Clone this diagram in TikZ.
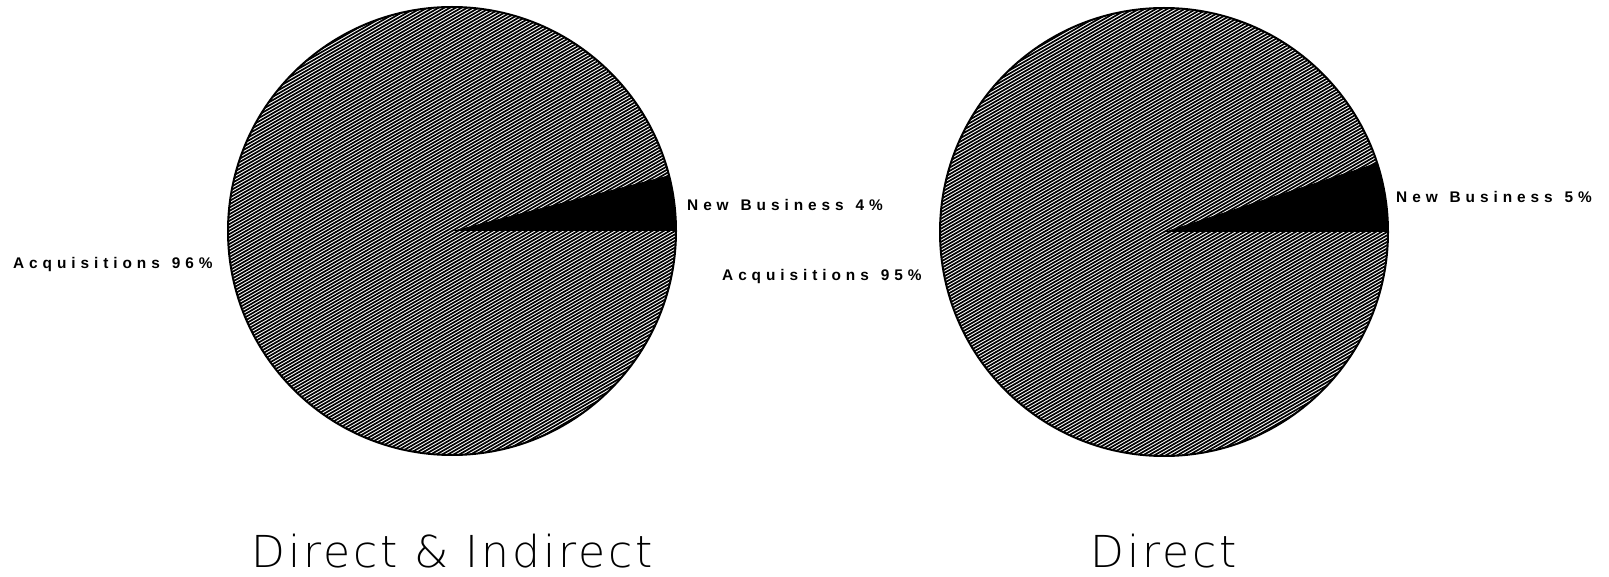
\documentclass[tikz,border=0pt]{standalone}
\usepackage{fontspec}
\setmainfont{Liberation Sans}
\newfontfamily\labelfont{Liberation Sans}[LetterSpace=32,WordSpace=1.3]
\newfontfamily\titlefont{DejaVu Sans ExtraLight}[LetterSpace=6.5]
\usetikzlibrary{positioning}
\tikzset{
  slicelabel/.style={anchor=west,inner sep=0pt,font=\labelfont\bfseries\fontsize{15.4}{18}\selectfont},
  charttitle/.style={anchor=base,inner sep=0pt,font=\titlefont\fontsize{44}{50}\selectfont},
  hatchline/.style={line width=1.7pt},
  rim/.style={line width=2pt},
}
\begin{document}
\begin{tikzpicture}[x=1pt,y=-1pt]
  \useasboundingbox (0,0) rectangle (1609,577);
  \coordinate (c1) at (452,231);                  % centre of left pie
  \coordinate (c2) at (1164,232);                 % centre of right pie

  \begin{scope}                                   % hatching of left pie
    \clip (c1) circle (224pt);
    \foreach \k in {-80,...,80}
      \draw[hatchline] ([shift={(-260,\k*3.3+150)}]c1) -- ([shift={(260,\k*3.3-150)}]c1);
  \end{scope}
  \fill (c1) -- ++(0:224pt) arc[start angle=0,end angle=14.4,radius=224pt] -- cycle;   % new business slice
  \draw[rim] (c1) circle (224pt);                 % rim of left pie

  \begin{scope}                                   % hatching of right pie
    \clip (c2) circle (224pt);
    \foreach \k in {-80,...,80}
      \draw[hatchline] ([shift={(-260,\k*3.3+150)}]c2) -- ([shift={(260,\k*3.3-150)}]c2);
  \end{scope}
  \fill (c2) -- ++(0:224pt) arc[start angle=0,end angle=18,radius=224pt] -- cycle;     % new business slice
  \draw[rim] (c2) circle (224pt);                 % rim of right pie

  \node[slicelabel] (nb1) at (687,205) {New Business 4\%};     % slice labels
  \node[slicelabel] (aq1) at (13,265) {Acquisitions 96\%};
  \node[slicelabel] (nb2) at (1396,197) {New Business 5\%};
  \node[slicelabel] (aq2) at (722,277) {Acquisitions 95\%};

  \node[charttitle] (t1) at (452,567) {Direct \& Indirect};    % titles
  \node[charttitle] (t2) at (1164,567) {Direct};
\end{tikzpicture}
\end{document}
